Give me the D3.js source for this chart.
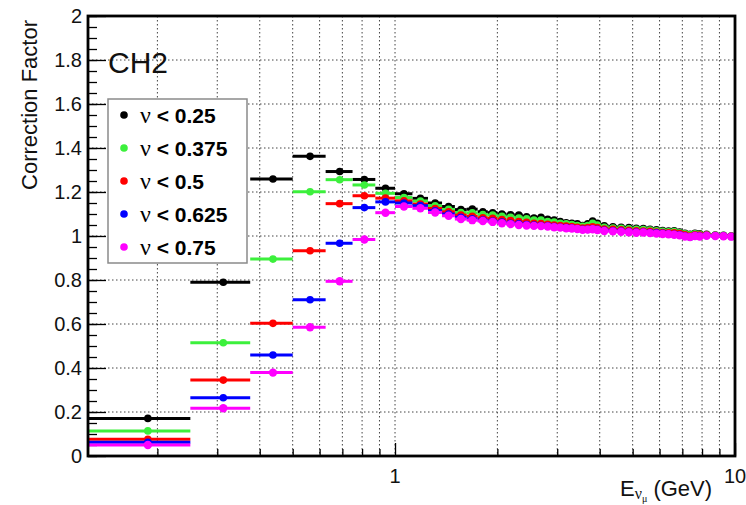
<!DOCTYPE html>
<html>
<head>
<meta charset="utf-8">
<script src="https://cdn.jsdelivr.net/npm/d3@7"></script>
<style>
  html, body { margin: 0; padding: 0; background: #fff; }
  svg { display: block; }
</style>
</head>
<body>
<svg id="chart" width="746" height="505"></svg>
<script>
// Neutrino energy bin edges (GeV)
const binEdges = [0.125, 0.25, 0.375, 0.5, 0.625, 0.75, 0.875, 1, 1.125, 1.25, 1.375, 1.5, 1.625, 1.75, 1.875, 2,
  2.125, 2.25, 2.375, 2.5, 2.625, 2.75, 2.875, 3, 3.125, 3.25, 3.375, 3.5, 3.625, 3.75, 3.875, 4,
  4.25, 4.5, 4.75, 5, 5.25, 5.5, 5.75, 6, 6.25, 6.5, 6.75, 7, 7.25, 7.5, 7.75, 8,
  8.5, 9, 9.5, 10];

// Correction factor per bin for each nu cut
const cfNu025 = [0.171, 0.790, 1.259, 1.362, 1.293, 1.257, 1.217, 1.192, 1.171, 1.150,
  1.134, 1.120, 1.122, 1.110, 1.106, 1.100, 1.096, 1.095, 1.087, 1.082,
  1.085, 1.076, 1.072, 1.066, 1.060, 1.058, 1.055, 1.048, 1.055, 1.068, 1.058,
  1.046, 1.042, 1.040, 1.038, 1.035, 1.034, 1.030, 1.028, 1.025, 1.022, 1.024, 1.018, 1.012, 1.008, 1.012, 1.010,
  1.008, 1.004, 1.003, 1.000];
const cfNu0375 = [0.114, 0.515, 0.895, 1.201, 1.256, 1.232, 1.194, 1.175, 1.159, 1.137,
  1.121, 1.107, 1.105, 1.098, 1.095, 1.090, 1.085, 1.082, 1.078, 1.073,
  1.072, 1.066, 1.063, 1.058, 1.055, 1.052, 1.048, 1.044, 1.047, 1.058, 1.050,
  1.040, 1.036, 1.035, 1.033, 1.030, 1.029, 1.027, 1.024, 1.021, 1.019, 1.020, 1.015, 1.010, 1.006, 1.010, 1.008,
  1.006, 1.003, 1.002, 1.000];
const cfNu05 = [0.076, 0.345, 0.603, 0.933, 1.147, 1.183, 1.172, 1.160, 1.145, 1.125,
  1.110, 1.095, 1.090, 1.083, 1.080, 1.075, 1.070, 1.066, 1.062, 1.058,
  1.057, 1.053, 1.050, 1.047, 1.045, 1.043, 1.040, 1.036, 1.038, 1.042, 1.038,
  1.032, 1.030, 1.028, 1.026, 1.024, 1.022, 1.021, 1.018, 1.016, 1.015, 1.014, 1.011, 1.006, 1.000, 1.006, 1.004,
  1.004, 1.002, 1.001, 0.999];
const cfNu0625 = [0.062, 0.265, 0.459, 0.710, 0.967, 1.129, 1.155, 1.150, 1.138, 1.115,
  1.100, 1.085, 1.078, 1.072, 1.068, 1.063, 1.058, 1.055, 1.052, 1.050,
  1.048, 1.046, 1.043, 1.040, 1.038, 1.036, 1.033, 1.030, 1.030, 1.033, 1.030,
  1.026, 1.024, 1.022, 1.020, 1.018, 1.018, 1.016, 1.014, 1.012, 1.010, 1.008, 1.005, 1.000, 0.994, 1.002, 1.000,
  1.002, 1.001, 1.000, 0.998];
const cfNu075 = [0.050, 0.217, 0.379, 0.585, 0.794, 0.984, 1.106, 1.134, 1.126, 1.107,
  1.092, 1.077, 1.072, 1.068, 1.064, 1.058, 1.054, 1.050, 1.048, 1.046,
  1.045, 1.043, 1.040, 1.038, 1.035, 1.034, 1.032, 1.028, 1.029, 1.031, 1.027,
  1.023, 1.021, 1.019, 1.017, 1.015, 1.016, 1.013, 1.011, 1.009, 1.008, 1.006, 1.003, 0.998, 0.995, 1.000, 0.998,
  1.001, 1.000, 0.999, 0.997];

const nuCuts = ["0.25", "0.375", "0.5", "0.625", "0.75"];
const seriesColors = ["#000000", "#3cf03c", "#ff0000", "#0000ff", "#ff00ff"];
const seriesValues = [cfNu025, cfNu0375, cfNu05, cfNu0625, cfNu075];

const yTicks = [0, 0.2, 0.4, 0.6, 0.8, 1, 1.2, 1.4, 1.6, 1.8, 2];
const yTickLabels = ["0", "0.2", "0.4", "0.6", "0.8", "1", "1.2", "1.4", "1.6", "1.8", "2"];
const xGridValues = [0.2, 0.3, 0.4, 0.5, 0.6, 0.7, 0.8, 0.9, 1, 2, 3, 4, 5, 6, 7, 8, 9];
const xMajorTicks = [1, 10];
const xTickLabels = ["1", "10"];

const svg = d3.select("#chart");
const frameL = 88, frameR = 735, frameT = 16, frameB = 456;

const x = d3.scaleLog().domain([0.125, 10]).range([frameL, frameR]);
const y = d3.scaleLinear().domain([0, 2]).range([frameB, frameT]);

const font = "'Liberation Sans', Arial, Helvetica, sans-serif";

// dotted grid
const grid = svg.append("g").attr("stroke", "#444").attr("stroke-width", 1)
  .attr("stroke-dasharray", "1.5,2.5").attr("fill", "none");
grid.selectAll("line.gx").data(xGridValues).enter().append("line")
  .attr("x1", d => x(d)).attr("x2", d => x(d)).attr("y1", frameT).attr("y2", frameB);
grid.selectAll("line.gy").data(yTicks.slice(1, -1)).enter().append("line")
  .attr("x1", frameL).attr("x2", frameR).attr("y1", d => y(d)).attr("y2", d => y(d));

// y axis ticks (major 0.2, minor 0.05)
const yAxis = d3.axisRight(y).tickValues(yTicks).tickSize(18).tickFormat("");
const yMinor = d3.axisRight(y).tickValues(d3.range(0, 41).map(i => i * 0.05)).tickSize(9).tickFormat("");
[yMinor, yAxis].forEach(ax => {
  const g = svg.append("g").attr("transform", `translate(${frameL},0)`).call(ax);
  g.select(".domain").remove();
  g.selectAll("line").attr("stroke", "#000").attr("stroke-width", 1.3);
});

// x axis ticks (up from the bottom frame)
const xMinor = d3.axisTop(x).tickValues(xGridValues.filter(v => v !== 1)).tickSize(7).tickFormat("");
const xMajor = d3.axisTop(x).tickValues(xMajorTicks).tickSize(13).tickFormat("");
[xMinor, xMajor].forEach(ax => {
  const g = svg.append("g").attr("transform", `translate(0,${frameB})`).call(ax);
  g.select(".domain").remove();
  g.selectAll("line").attr("stroke", "#000").attr("stroke-width", 1.3);
});

// tick labels
svg.append("g").selectAll("text").data(yTicks).enter().append("text")
  .attr("x", 82).attr("y", d => y(d)).attr("dy", "0.36em")
  .attr("text-anchor", "end").attr("font-family", font).attr("font-size", 20)
  .attr("fill", "#111").text((d, i) => yTickLabels[i]);
svg.append("g").selectAll("text").data(xMajorTicks).enter().append("text")
  .attr("x", d => x(d)).attr("y", 483)
  .attr("text-anchor", "middle").attr("font-family", font).attr("font-size", 20)
  .attr("fill", "#111").text((d, i) => xTickLabels[i]);

// data: horizontal bin-width bars and markers
const bins = d3.range(binEdges.length - 1).map(i => ({ lo: binEdges[i], hi: binEdges[i + 1] }));
seriesValues.forEach((vals, s) => {
  const g = svg.append("g");
  const pts = bins.map((b, i) => ({ lo: b.lo, hi: b.hi, c: (b.lo + b.hi) / 2, v: vals[i] }));
  g.selectAll("line").data(pts).enter().append("line")
    .attr("x1", d => x(d.lo)).attr("x2", d => x(d.hi))
    .attr("y1", d => y(d.v)).attr("y2", d => y(d.v))
    .attr("stroke", seriesColors[s]).attr("stroke-width", 3);
  g.selectAll("circle").data(pts).enter().append("circle")
    .attr("cx", d => x(d.c)).attr("cy", d => y(d.v))
    .attr("r", s === 4 ? 4.2 : 3.8).attr("fill", seriesColors[s]);
});

// frame
svg.append("rect").attr("x", frameL).attr("y", frameT).attr("width", frameR - frameL).attr("height", frameB - frameT)
  .attr("fill", "none").attr("stroke", "#000").attr("stroke-width", 2.8);

// label inside the frame
svg.append("text").attr("x", 108).attr("y", 73).attr("font-family", font)
  .attr("font-size", 30).attr("fill", "#111").text("CH2");

// legend
const leg = svg.append("g");
leg.append("rect").attr("x", 108).attr("y", 99).attr("width", 139).attr("height", 164)
  .attr("fill", "#fff").attr("stroke", "#8a8a8a").attr("stroke-width", 1.5);
nuCuts.forEach((cut, i) => {
  const cy = 115 + i * 33;
  leg.append("circle").attr("cx", 124).attr("cy", cy).attr("r", 3.8).attr("fill", seriesColors[i]);
  const t = leg.append("text").attr("x", 140).attr("y", cy + 7.5).attr("fill", "#000");
  t.append("tspan").attr("font-family", "'Liberation Serif', 'DejaVu Serif', serif")
    .attr("font-size", 24).text("ν");
  t.append("tspan").attr("font-family", font).attr("font-weight", "bold")
    .attr("font-size", 21).text(" < " + cut);
});

// axis titles
svg.append("text").attr("transform", "translate(37,20) rotate(-90)")
  .attr("text-anchor", "end").attr("font-family", font).attr("font-size", 22)
  .attr("fill", "#111").text("Correction Factor");

const xt = svg.append("text").attr("x", 620).attr("y", 496)
  .attr("font-family", font).attr("font-size", 22).attr("fill", "#111");
xt.append("tspan").text("E");
xt.append("tspan").attr("font-family", "'Liberation Serif', serif").attr("font-size", 16).attr("dy", 3).text("ν");
xt.append("tspan").attr("font-family", "'Liberation Serif', serif").attr("font-size", 10).attr("dy", 2.5).text("μ");
xt.append("tspan").attr("dy", -5.5).text(" (GeV)");
</script>
</body>
</html>
